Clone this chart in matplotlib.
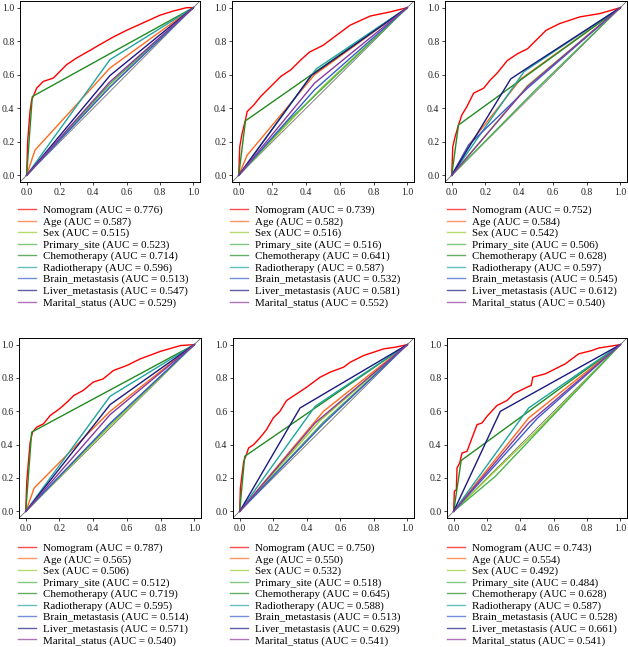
import matplotlib.pyplot as plt
from matplotlib.lines import Line2D

plt.rcParams['font.family'] = ['Liberation Serif', 'DejaVu Serif']

names = ["Nomogram", "Age", "Sex", "Primary_site", "Chemotherapy",
         "Radiotherapy", "Brain_metastasis", "Liver_metastasis", "Marital_status"]
colors = ["#FF0000", "#FF6A1F", "#9ACD32", "#4CB050", "#228B22",
          "#1FA5A0", "#3A5FCD", "#1A1A80", "#8B3A9B"]

# AUC values shown in the legends
auc_1 = [0.776, 0.587, 0.515, 0.523, 0.714, 0.596, 0.513, 0.547, 0.529]
auc_2 = [0.739, 0.582, 0.516, 0.516, 0.641, 0.587, 0.532, 0.581, 0.552]
auc_3 = [0.752, 0.584, 0.542, 0.506, 0.628, 0.597, 0.545, 0.612, 0.540]
auc_4 = [0.787, 0.565, 0.506, 0.512, 0.719, 0.595, 0.514, 0.571, 0.540]
auc_5 = [0.750, 0.550, 0.532, 0.518, 0.645, 0.588, 0.513, 0.629, 0.541]
auc_6 = [0.743, 0.554, 0.492, 0.484, 0.628, 0.587, 0.528, 0.661, 0.541]

# nomogram ROC curves
nomo_fpr_1 = [0, 0.006, 0.02, 0.03, 0.04, 0.06, 0.1, 0.16, 0.2, 0.24, 0.3, 0.38, 0.44, 0.52, 0.6, 0.7, 0.8, 0.88, 0.96, 1]
nomo_tpr_1 = [0, 0.2, 0.38, 0.45, 0.47, 0.52, 0.56, 0.58, 0.62, 0.66, 0.70, 0.745, 0.78, 0.825, 0.865, 0.91, 0.955, 0.98, 1.0, 1]
nomo_fpr_2 = [0, 0.006, 0.02, 0.04, 0.05, 0.09, 0.13, 0.19, 0.25, 0.31, 0.37, 0.42, 0.5, 0.58, 0.66, 0.78, 0.9, 1]
nomo_tpr_2 = [0, 0.17, 0.25, 0.33, 0.38, 0.42, 0.47, 0.53, 0.59, 0.63, 0.69, 0.735, 0.775, 0.835, 0.895, 0.95, 0.975, 1]
nomo_fpr_3 = [0, 0.006, 0.02, 0.04, 0.06, 0.09, 0.13, 0.19, 0.23, 0.27, 0.33, 0.39, 0.45, 0.49, 0.56, 0.64, 0.76, 0.88, 1]
nomo_tpr_3 = [0, 0.17, 0.23, 0.30, 0.36, 0.41, 0.49, 0.52, 0.57, 0.61, 0.685, 0.725, 0.755, 0.795, 0.865, 0.905, 0.945, 0.965, 1]
nomo_fpr_4 = [0, 0.006, 0.016, 0.026, 0.04, 0.065, 0.105, 0.145, 0.2, 0.245, 0.285, 0.34, 0.4, 0.46, 0.52, 0.6, 0.68, 0.8, 0.92, 1]
nomo_tpr_4 = [0, 0.18, 0.30, 0.415, 0.475, 0.505, 0.525, 0.575, 0.615, 0.655, 0.695, 0.725, 0.775, 0.795, 0.845, 0.875, 0.915, 0.96, 0.995, 1]
nomo_fpr_5 = [0, 0.004, 0.014, 0.024, 0.04, 0.053, 0.083, 0.12, 0.16, 0.2, 0.24, 0.28, 0.34, 0.4, 0.48, 0.54, 0.62, 0.66, 0.74, 0.86, 0.93, 1]
nomo_tpr_5 = [0, 0.14, 0.22, 0.30, 0.34, 0.38, 0.40, 0.44, 0.49, 0.56, 0.60, 0.665, 0.705, 0.745, 0.805, 0.835, 0.865, 0.895, 0.935, 0.975, 0.985, 1]
nomo_fpr_6 = [0, 0.004, 0.016, 0.02, 0.036, 0.05, 0.08, 0.11, 0.14, 0.17, 0.2, 0.26, 0.32, 0.36, 0.44, 0.465, 0.475, 0.55, 0.59, 0.67, 0.75, 0.83, 0.87, 1]
nomo_tpr_6 = [0, 0.12, 0.13, 0.26, 0.29, 0.35, 0.36, 0.44, 0.52, 0.53, 0.57, 0.635, 0.665, 0.705, 0.745, 0.755, 0.805, 0.825, 0.845, 0.885, 0.945, 0.965, 0.98, 1]

# single-variable ROC curves: Age, Sex, Primary_site, Chemotherapy,
# Radiotherapy, Brain_metastasis, Liver_metastasis, Marital_status
var_fpr_1 = [[0, 0.05, 0.5, 1], [0, 0.5, 1], [0, 0.5, 1], [0, 0.034, 1],
             [0, 0.5, 1], [0, 0.5, 1], [0, 0.5, 1], [0, 0.5, 1]]
var_tpr_1 = [[0, 0.15, 0.64, 1], [0, 0.53, 1], [0, 0.546, 1], [0, 0.47, 1],
             [0, 0.69, 1], [0, 0.526, 1], [0, 0.595, 1], [0, 0.558, 1]]
var_fpr_2 = [[0, 0.05, 0.45, 1], [0, 0.5, 1], [0, 0.3, 1], [0, 0.04, 1],
             [0, 0.46, 1], [0, 0.45, 1], [0, 0.43, 1], [0, 0.45, 1]]
var_tpr_2 = [[0, 0.12, 0.6, 1], [0, 0.53, 1], [0, 0.33, 1], [0, 0.325, 1],
             [0, 0.635, 1], [0, 0.51, 1], [0, 0.595, 1], [0, 0.55, 1]]
var_fpr_3 = [[0, 0.1, 0.41, 1], [0, 0.45, 1], [0, 0.5, 1], [0, 0.04, 1],
             [0, 0.43, 1], [0, 0.1, 0.45, 1], [0, 0.35, 0.44, 1], [0, 0.45, 1]]
var_tpr_3 = [[0, 0.18, 0.575, 1], [0, 0.535, 1], [0, 0.512, 1], [0, 0.30, 1],
             [0, 0.62, 1], [0, 0.18, 0.52, 1], [0, 0.575, 0.635, 1], [0, 0.53, 1]]
var_fpr_4 = [[0, 0.05, 0.5, 1], [0, 0.5, 1], [0, 0.5, 1], [0, 0.035, 1],
             [0, 0.5, 1], [0, 0.5, 1], [0, 0.5, 1], [0, 0.5, 1]]
var_tpr_4 = [[0, 0.14, 0.6, 1], [0, 0.512, 1], [0, 0.524, 1], [0, 0.475, 1],
             [0, 0.69, 1], [0, 0.528, 1], [0, 0.64, 1], [0, 0.58, 1]]
var_fpr_5 = [[0, 0.5, 1], [0, 0.48, 1], [0, 0.5, 1], [0, 0.03, 1],
             [0, 0.45, 1], [0, 0.5, 1], [0, 0.36, 1], [0, 0.45, 1]]
var_tpr_5 = [[0, 0.6, 1], [0, 0.545, 1], [0, 0.536, 1], [0, 0.33, 1],
             [0, 0.63, 1], [0, 0.526, 1], [0, 0.62, 1], [0, 0.53, 1]]
var_fpr_6 = [[0, 0.45, 1], [0, 0.5, 1], [0, 0.25, 1], [0, 0.045, 1],
             [0, 0.45, 1], [0, 0.5, 1], [0, 0.28, 1], [0, 0.45, 1]]
var_tpr_6 = [[0, 0.56, 1], [0, 0.485, 1], [0, 0.21, 1], [0, 0.305, 1],
             [0, 0.62, 1], [0, 0.556, 1], [0, 0.60, 1], [0, 0.53, 1]]

panels = [
    (nomo_fpr_1, nomo_tpr_1, var_fpr_1, var_tpr_1, auc_1),
    (nomo_fpr_2, nomo_tpr_2, var_fpr_2, var_tpr_2, auc_2),
    (nomo_fpr_3, nomo_tpr_3, var_fpr_3, var_tpr_3, auc_3),
    (nomo_fpr_4, nomo_tpr_4, var_fpr_4, var_tpr_4, auc_4),
    (nomo_fpr_5, nomo_tpr_5, var_fpr_5, var_tpr_5, auc_5),
    (nomo_fpr_6, nomo_tpr_6, var_fpr_6, var_tpr_6, auc_6),
]

ax_boxes = [
    (0.0318, 0.7187, 0.2866, 0.2798),
    (0.3694, 0.7187, 0.2898, 0.2798),
    (0.7086, 0.7187, 0.2898, 0.2798),
    (0.0303, 0.1994, 0.2898, 0.2782),
    (0.3710, 0.1994, 0.2882, 0.2782),
    (0.7118, 0.1994, 0.2866, 0.2782),
]
legend_pos = [(0.0287, 0.683), (0.366, 0.683), (0.712, 0.683),
              (0.0287, 0.1607), (0.366, 0.1607), (0.712, 0.1607)]

fig = plt.figure(figsize=(6.28, 6.47), dpi=100)

for i, (nf, nt, vf, vt, aucs) in enumerate(panels):
    ax = fig.add_axes(ax_boxes[i])
    ax.plot([-0.04, 1.04], [-0.04, 1.04], color="#707070", lw=0.6)
    ax.plot(nf, nt, color=colors[0], lw=1.0)
    for k in range(8):
        ax.plot(vf[k], vt[k], color=colors[k + 1], lw=1.0)
    ax.set_xlim(-0.04, 1.04)
    ax.set_ylim(-0.04, 1.04)
    ticks = [0.0, 0.2, 0.4, 0.6, 0.8, 1.0]
    ax.set_xticks(ticks)
    ax.set_yticks(ticks)
    ax.set_xticklabels([f"{t:.1f}" for t in ticks])
    ax.set_yticklabels([f"{t:.1f}" for t in ticks])
    ax.tick_params(labelsize=7, length=2.5, width=0.6, pad=1.5, colors="#222222")
    for sp in ax.spines.values():
        sp.set_linewidth(0.7)

    handles = [Line2D([], [], color=c, lw=1.0, alpha=0.7) for c in colors]
    labels = [f"{n} (AUC = {a:.3f})" for n, a in zip(names, aucs)]
    ax.legend(handles, labels, loc="upper left", bbox_to_anchor=legend_pos[i],
              bbox_transform=fig.transFigure, frameon=False, fontsize=7.9,
              borderpad=0, borderaxespad=0, labelspacing=0.15,
              handlelength=1.65, handletextpad=0.6)

fig.savefig("out.png", dpi=100)
